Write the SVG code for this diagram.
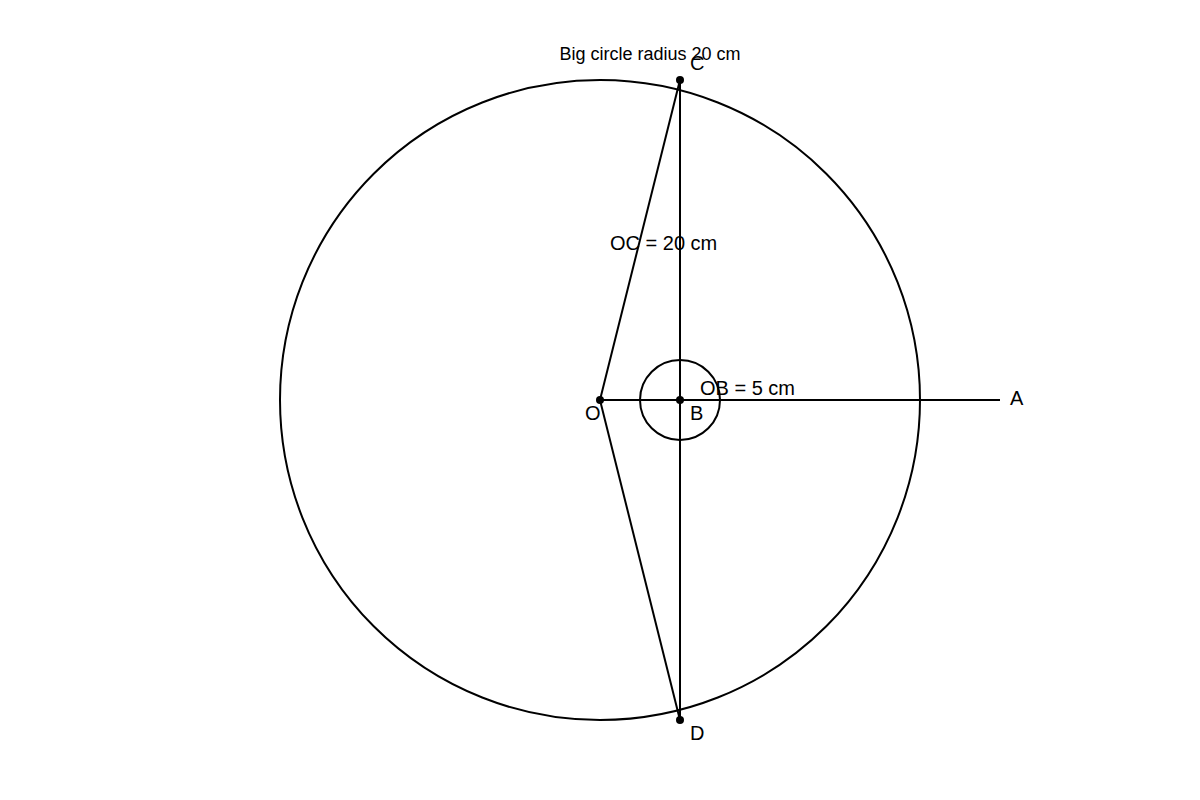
<svg xmlns="http://www.w3.org/2000/svg" width="1200" height="800" viewBox="0 0 1200 800">
<style>
.ln{stroke:#000;stroke-width:2;fill:none}
.pt{fill:#000}
text{font-family:"Liberation Sans",Arial,sans-serif;fill:#000}
.lb{font-size:20px}
.tt{font-size:18px}
</style>
<rect width="1200" height="800" fill="#fff"/>
<g id="big-circle"><circle class="ln" cx="600" cy="400" r="320"/></g>
<g id="small-circle"><circle class="ln" cx="680" cy="400" r="40"/></g>
<g id="connectors">
<line class="ln" x1="600" y1="400" x2="1000" y2="400"/>
<line class="ln" x1="680" y1="80" x2="680" y2="720"/>
<line class="ln" x1="600" y1="400" x2="680" y2="80"/>
<line class="ln" x1="600" y1="400" x2="680" y2="720"/>
</g>
<g id="point-O"><circle class="pt" cx="600" cy="400" r="4"/><text class="lb" x="585" y="420">O</text></g>
<g id="point-B"><circle class="pt" cx="680" cy="400" r="4"/><text class="lb" x="690" y="420">B</text></g>
<g id="point-C"><circle class="pt" cx="680" cy="80" r="4"/><text class="lb" x="690" y="70">C</text></g>
<g id="point-D"><circle class="pt" cx="680" cy="720" r="4"/><text class="lb" x="690" y="740">D</text></g>
<g id="point-A"><text class="lb" x="1010" y="405">A</text></g>
<g id="labels">
<text class="tt" x="650" y="60" text-anchor="middle">Big circle radius 20 cm</text>
<text class="lb" x="610" y="250">OC = 20 cm</text>
<text class="lb" x="700" y="395">OB = 5 cm</text>
</g>
</svg>
